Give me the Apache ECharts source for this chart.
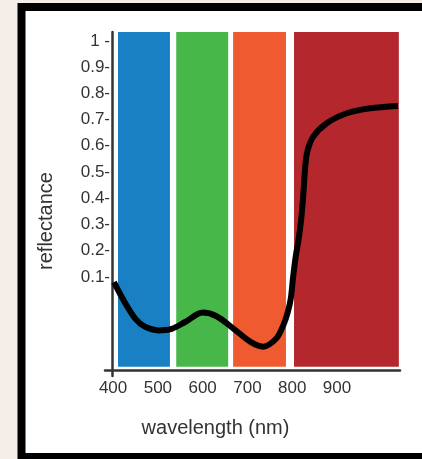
<!DOCTYPE html>
<html>
<head>
<meta charset="utf-8">
<script src="https://cdn.jsdelivr.net/npm/echarts@6/dist/echarts.min.js"></script>
<style>
html,body{margin:0;padding:0;background:#f4ede8;}
#chart{width:422px;height:459px;}
</style>
</head>
<body>
<div id="chart"></div>
<script>
// ---- data ----
var wavelengths = [402, 427, 449, 471, 501, 531, 561, 600, 631, 668, 706, 735, 765, 780, 790, 797, 802, 808, 814, 820, 825, 829, 834, 847, 877, 922, 974, 1036];
var reflectance = [0.08, 0.0, -0.058, -0.09, -0.104, -0.098, -0.072, -0.036, -0.05, -0.096, -0.147, -0.166, -0.134, -0.085, -0.035, 0.02, 0.1, 0.18, 0.24, 0.32, 0.42, 0.52, 0.58, 0.635, 0.686, 0.724, 0.743, 0.752];
var bandStarts = [411, 541, 668, 804];
var bandEnds = [527, 657, 786, 1038];
var bandColors = ['#1a80c4', '#48b74a', '#f05a31', '#b4272d'];
var xTickValues = [400, 500, 600, 700, 800, 900];
var yTickValues = [0.1, 0.2, 0.3, 0.4, 0.5, 0.6, 0.7, 0.8, 0.9, 1];
var yTickLabels = ['0.1-', '0.2-', '0.3-', '0.4-', '0.5-', '0.6-', '0.7-', '0.8-', '0.9-', '1 -'];

var yMin = -0.278, yMax = 1.034, bandBottom = -0.243;

var curve = wavelengths.map(function (w, i) { return [w, reflectance[i]]; });
var areas = bandStarts.map(function (s, i) {
  return [{ xAxis: s, yAxis: bandBottom, itemStyle: { color: bandColors[i], opacity: 1 } },
          { xAxis: bandEnds[i], yAxis: yMax }];
});

var chart = echarts.init(document.getElementById('chart'));
chart.setOption({
  backgroundColor: '#f4ede8',
  animation: false,
  graphic: [{
    type: 'rect', z: -10, silent: true,
    shape: { x: 21.5, y: 7, width: 600, height: 450 },
    style: { fill: '#ffffff', stroke: '#000000', lineWidth: 8 }
  }],
  grid: { left: 105, right: 22, top: 32, bottom: 83 },
  xAxis: {
    type: 'value', min: 382, max: 1040.6, offset: -6,
    axisLine: { show: true, onZero: false, lineStyle: { color: '#333', width: 2.5 } },
    axisTick: { show: false },
    splitLine: { show: false },
    axisLabel: { customValues: xTickValues, color: '#333', fontSize: 17, fontFamily: 'Liberation Sans', margin: 10 },
    name: 'wavelength (nm)', nameLocation: 'middle', nameGap: 48,
    nameTextStyle: { color: '#333', fontSize: 20, fontFamily: 'Liberation Sans', padding: [0, 74, 0, 0] }
  },
  yAxis: {
    type: 'value', min: yMin, max: yMax, offset: -7,
    axisLine: { show: true, onZero: false, lineStyle: { color: '#333', width: 2.5 } },
    axisTick: { show: false },
    splitLine: { show: false },
    axisLabel: {
      customValues: yTickValues, color: '#333', fontSize: 17, fontFamily: 'Liberation Sans', margin: 2,
      formatter: function (v) {
        for (var i = 0; i < yTickValues.length; i++) if (Math.abs(yTickValues[i] - v) < 1e-6) return yTickLabels[i];
        return '';
      }
    },
    name: 'reflectance', nameLocation: 'middle', nameGap: 56,
    nameTextStyle: { color: '#333', fontSize: 20, fontFamily: 'Liberation Sans', padding: [0, 34, 0, 0] }
  },
  series: [{
    type: 'line',
    data: curve,
    smooth: 0.3,
    showSymbol: false,
    lineStyle: { color: '#000', width: 6 },
    z: 5,
    markArea: { silent: true, data: areas }
  }]
});
</script>
</body>
</html>
